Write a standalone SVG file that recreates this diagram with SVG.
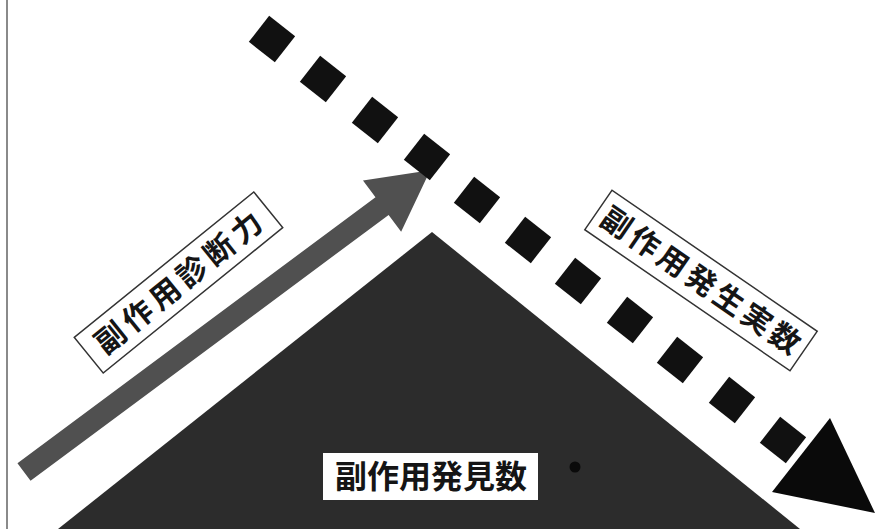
<svg xmlns="http://www.w3.org/2000/svg" width="876" height="529" viewBox="0 0 876 529">
<style>
.lbl{font-family:"Noto Sans CJK JP","Noto Sans CJK SC",sans-serif;font-weight:700;fill:#151515;text-anchor:middle}
.box{fill:#fff;stroke:#333;stroke-width:1.5}
.sq{fill:#111}
</style>
<defs>
<rect id="sq" x="-16.5" y="-16.5" width="33" height="33" class="sq"/>
</defs>
<rect width="876" height="529" fill="#fff"/>
<line x1="7" y1="0" x2="7" y2="529" stroke="#8a8a8a" stroke-width="2"/>
<g id="triangle">
<polygon points="432,232 58,529 800,529" fill="#2c2c2c"/>
<circle cx="575" cy="467" r="5.5" fill="#0a0a0a"/>
</g>
<g id="connectors">
<polygon transform="translate(24,472) rotate(-36.6)" points="0,-11 446,-11 446,-32 506,0 446,32 446,11 0,11" fill="#505050"/>
<use href="#sq" transform="translate(272,39) rotate(38)"/>
<use href="#sq" transform="translate(323,79) rotate(38)"/>
<use href="#sq" transform="translate(375,120) rotate(38)"/>
<use href="#sq" transform="translate(427,157) rotate(38)"/>
<use href="#sq" transform="translate(477,200) rotate(38)"/>
<use href="#sq" transform="translate(528,240) rotate(38)"/>
<use href="#sq" transform="translate(578,281) rotate(38)"/>
<use href="#sq" transform="translate(630,320) rotate(38)"/>
<use href="#sq" transform="translate(680,360) rotate(38)"/>
<use href="#sq" transform="translate(732,400) rotate(38)"/>
<use href="#sq" transform="translate(783,440) rotate(38)"/>
<polygon points="830,418 772,492 875,513" fill="#0a0a0a"/>
</g>
<g id="label-diagnosis" transform="translate(178.5,282.5) rotate(-39)">
<rect class="box" x="-115.5" y="-23" width="231" height="46"/>
<text class="lbl" x="2.5" y="11" font-size="30" letter-spacing="5">副作用診断力</text>
</g>
<g id="label-actual" transform="translate(701,280.5) rotate(34.5)">
<rect class="box" x="-124.5" y="-24" width="249" height="48"/>
<text class="lbl" x="2" y="11" font-size="30" letter-spacing="4">副作用発生実数</text>
</g>
<g id="label-found">
<rect x="323" y="453" width="215" height="47" fill="#fff"/>
<text class="lbl" x="431" y="488" font-size="32">副作用発見数</text>
</g>
</svg>
